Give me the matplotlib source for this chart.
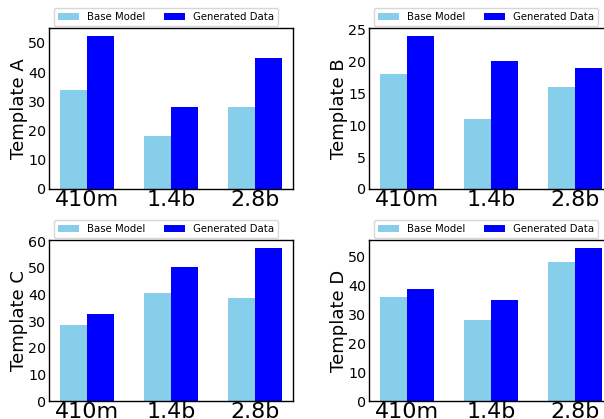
import numpy as np
import matplotlib.pyplot as plt
import matplotlib as mpl
from matplotlib.ticker import MultipleLocator

mpl.rcParams['font.family'] = 'DejaVu Sans'

# ------------------------------------------------------- #

models = ['410m', '1.4b', '2.8b']
templates = ['Template A', 'Template B', 'Template C', 'Template D']

base_A = [34, 18, 28]
gen_A = [52.5, 28, 45]
base_B = [18, 11, 16]
gen_B = [24, 20, 19]
base_C = [28.5, 40.7, 38.7]
gen_C = [32.7, 50.4, 57.6]
base_D = [36, 28.2, 48.4]
gen_D = [39, 35, 53.2]

base_vals = [base_A, base_B, base_C, base_D]
gen_vals = [gen_A, gen_B, gen_C, gen_D]
ystep = [10, 5, 10, 10]

# ------------------------------------------------------- #

W, H = 604, 419
fig = plt.figure(figsize=(W / 100, H / 100), dpi=100)

# axes boxes in pixels: left, top, right, bottom
boxes = [(49, 28, 293, 189), (369, 28, 613, 189),
         (49, 240, 293, 401), (369, 240, 613, 401)]

x = np.arange(len(models))
width = 0.325

for i in range(4):
    l, t, r, b = boxes[i]
    ax = fig.add_axes([l / W, 1 - b / H, (r - l) / W, (b - t) / H])
    ax.bar(x - width / 2, base_vals[i], width, color='skyblue', label='Base Model')
    ax.bar(x + width / 2, gen_vals[i], width, color='blue', label='Generated Data')
    ax.set_xticks(x)
    ax.set_xticklabels(models, fontsize=16)
    ax.yaxis.set_major_locator(MultipleLocator(ystep[i]))
    ax.set_ylabel(templates[i], fontsize=13, labelpad=0)
    ax.tick_params(axis='y', labelsize=10.3, length=0, pad=2)
    ax.tick_params(axis='x', length=0, pad=1)
    for s in ax.spines.values():
        s.set_linewidth(1.0)
    ax.legend(loc='lower center', bbox_to_anchor=(0.48, 1.0), ncol=2,
              fontsize=7.3, borderaxespad=0.15, columnspacing=1.9,
              handlelength=2.0, edgecolor='#cccccc')

plt.savefig('out.png', dpi=100, facecolor='w')
